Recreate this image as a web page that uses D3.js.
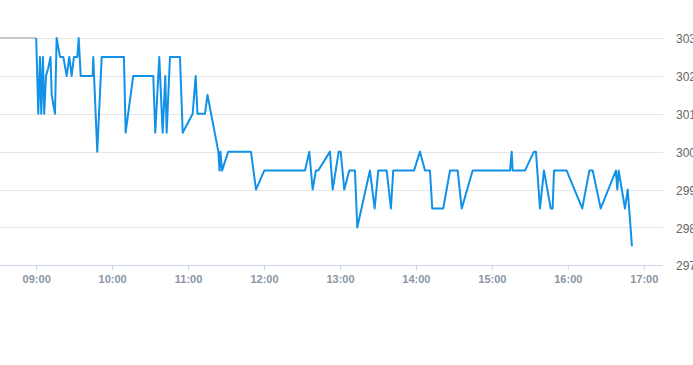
<!DOCTYPE html>
<html><head><meta charset="utf-8">
<script src="https://cdn.jsdelivr.net/npm/d3@7"></script>
<style>body{margin:0;background:#fff}svg{display:block}</style>
</head><body>
<svg id="c" width="693" height="365"></svg>
<script>
const preTimes = ["08:31:25","09:00:00"];
const preValues = [303, 303];
const times = ["09:00:00","09:01:40","09:03:00","09:04:00","09:05:20","09:06:20","09:07:45","09:09:30","09:11:20","09:12:15","09:14:50","09:16:10","09:18:50","09:21:25","09:24:05","09:26:10","09:28:00","09:29:50","09:32:30","09:33:35","09:35:10","09:44:40","09:45:05","09:48:15","09:51:45","10:09:20","10:10:40","10:16:40","10:32:30","10:34:05","10:37:15","10:39:55","10:42:00","10:43:05","10:45:42","10:53:36","10:55:45","11:03:38","11:06:00","11:07:25","11:13:20","11:15:20","11:23:55","11:24:50","11:25:35","11:26:50","11:31:45","11:49:40","11:53:40","12:00:10","12:32:25","12:35:45","12:38:25","12:41:00","12:42:50","12:52:05","12:54:15","12:59:00","13:00:35","13:03:25","13:07:20","13:11:50","13:13:40","13:23:40","13:27:25","13:30:15","13:36:55","13:40:15","13:42:05","13:58:30","14:03:10","14:07:10","14:11:05","14:12:55","14:21:35","14:26:55","14:33:00","14:36:10","14:44:50","15:14:20","15:15:40","15:16:25","15:26:10","15:33:15","15:34:50","15:38:00","15:41:10","15:46:30","15:48:00","15:49:05","15:59:05","16:11:25","16:17:00","16:19:40","16:26:00","16:38:00","16:39:05","16:40:10","16:45:10","16:47:20","16:50:40"];
const values = [303,301,302.5,301,302.5,301,302,302.2,302.5,301.5,301,303,302.5,302.5,302,302.5,302,302.5,302.5,303,302,302,302.5,300,302.5,302.5,300.5,302,302,300.5,302.5,300.5,302,300.5,302.5,302.5,300.5,301,302,301,301,301.5,300,299.5,300,299.5,300,300,299,299.5,299.5,300,299,299.5,299.5,300,299,300,300,299,299.5,299.5,298,299.5,298.5,299.5,299.5,298.5,299.5,299.5,300,299.5,299.5,298.5,298.5,299.5,299.5,298.5,299.5,299.5,300,299.5,299.5,300,300,298.5,299.5,298.5,298.5,299.5,299.5,298.5,299.5,299.5,298.5,299.5,299,299.5,298.5,299,297.5];
const xTicks = ["09:00","10:00","11:00","12:00","13:00","14:00","15:00","16:00","17:00"];
const yTicks = [297,298,299,300,301,302,303];
const xDomain = ["08:31:25","17:15:12"];

const parse = d3.timeParse("%H:%M:%S");
const parseHM = d3.timeParse("%H:%M");
const svg = d3.select("#c");
const x = d3.scaleTime().domain(xDomain.map(parse)).range([0, 663]);
const y = d3.scaleLinear().domain([297, 303]).range([265.3, 38]);

// grid
svg.append("g").selectAll("line").data(yTicks.filter(v => v !== 297)).join("line")
  .attr("x1", 0).attr("x2", 663)
  .attr("y1", d => Math.round(y(d)) + 0.5).attr("y2", d => Math.round(y(d)) + 0.5)
  .attr("stroke", "#e6e6e6").attr("stroke-width", 1);

// y labels
svg.append("g").selectAll("text").data(yTicks).join("text")
  .attr("x", 676).attr("y", d => y(d) + 2)
  .attr("dominant-baseline", "middle")
  .attr("font-family", "Liberation Sans, Arial, sans-serif").attr("font-size", 12)
  .attr("fill", "#666").text(d => d);

// x axis
const xAxis = d3.axisBottom(x).tickValues(xTicks.map(parseHM)).tickFormat(d3.timeFormat("%H:%M")).tickSize(5).tickSizeOuter(0);
const gx = svg.append("g").attr("transform", "translate(0,265.5)").call(xAxis);
gx.select(".domain").attr("stroke", "#ccd6eb").attr("d", "M0,0H663");
gx.selectAll(".tick line").attr("stroke", "#ccd6eb");
gx.selectAll(".tick text").attr("fill", "#8a95a5").attr("font-size", 11).attr("font-weight", "bold")
  .attr("font-family", "Liberation Sans, Arial, sans-serif").attr("dy", "0.9em");

const line = d3.line().x(d => x(d[0])).y(d => y(d[1]));
svg.append("path").datum(preTimes.map((t, i) => [parse(t), preValues[i]]))
  .attr("d", line).attr("fill", "none").attr("stroke", "#c8c8c8").attr("stroke-width", 2);
svg.append("path").datum(times.map((t, i) => [parse(t), values[i]]))
  .attr("d", line).attr("fill", "none").attr("stroke", "#1192e8").attr("stroke-width", 2)
  .attr("stroke-linejoin", "round");
</script>
</body></html>
